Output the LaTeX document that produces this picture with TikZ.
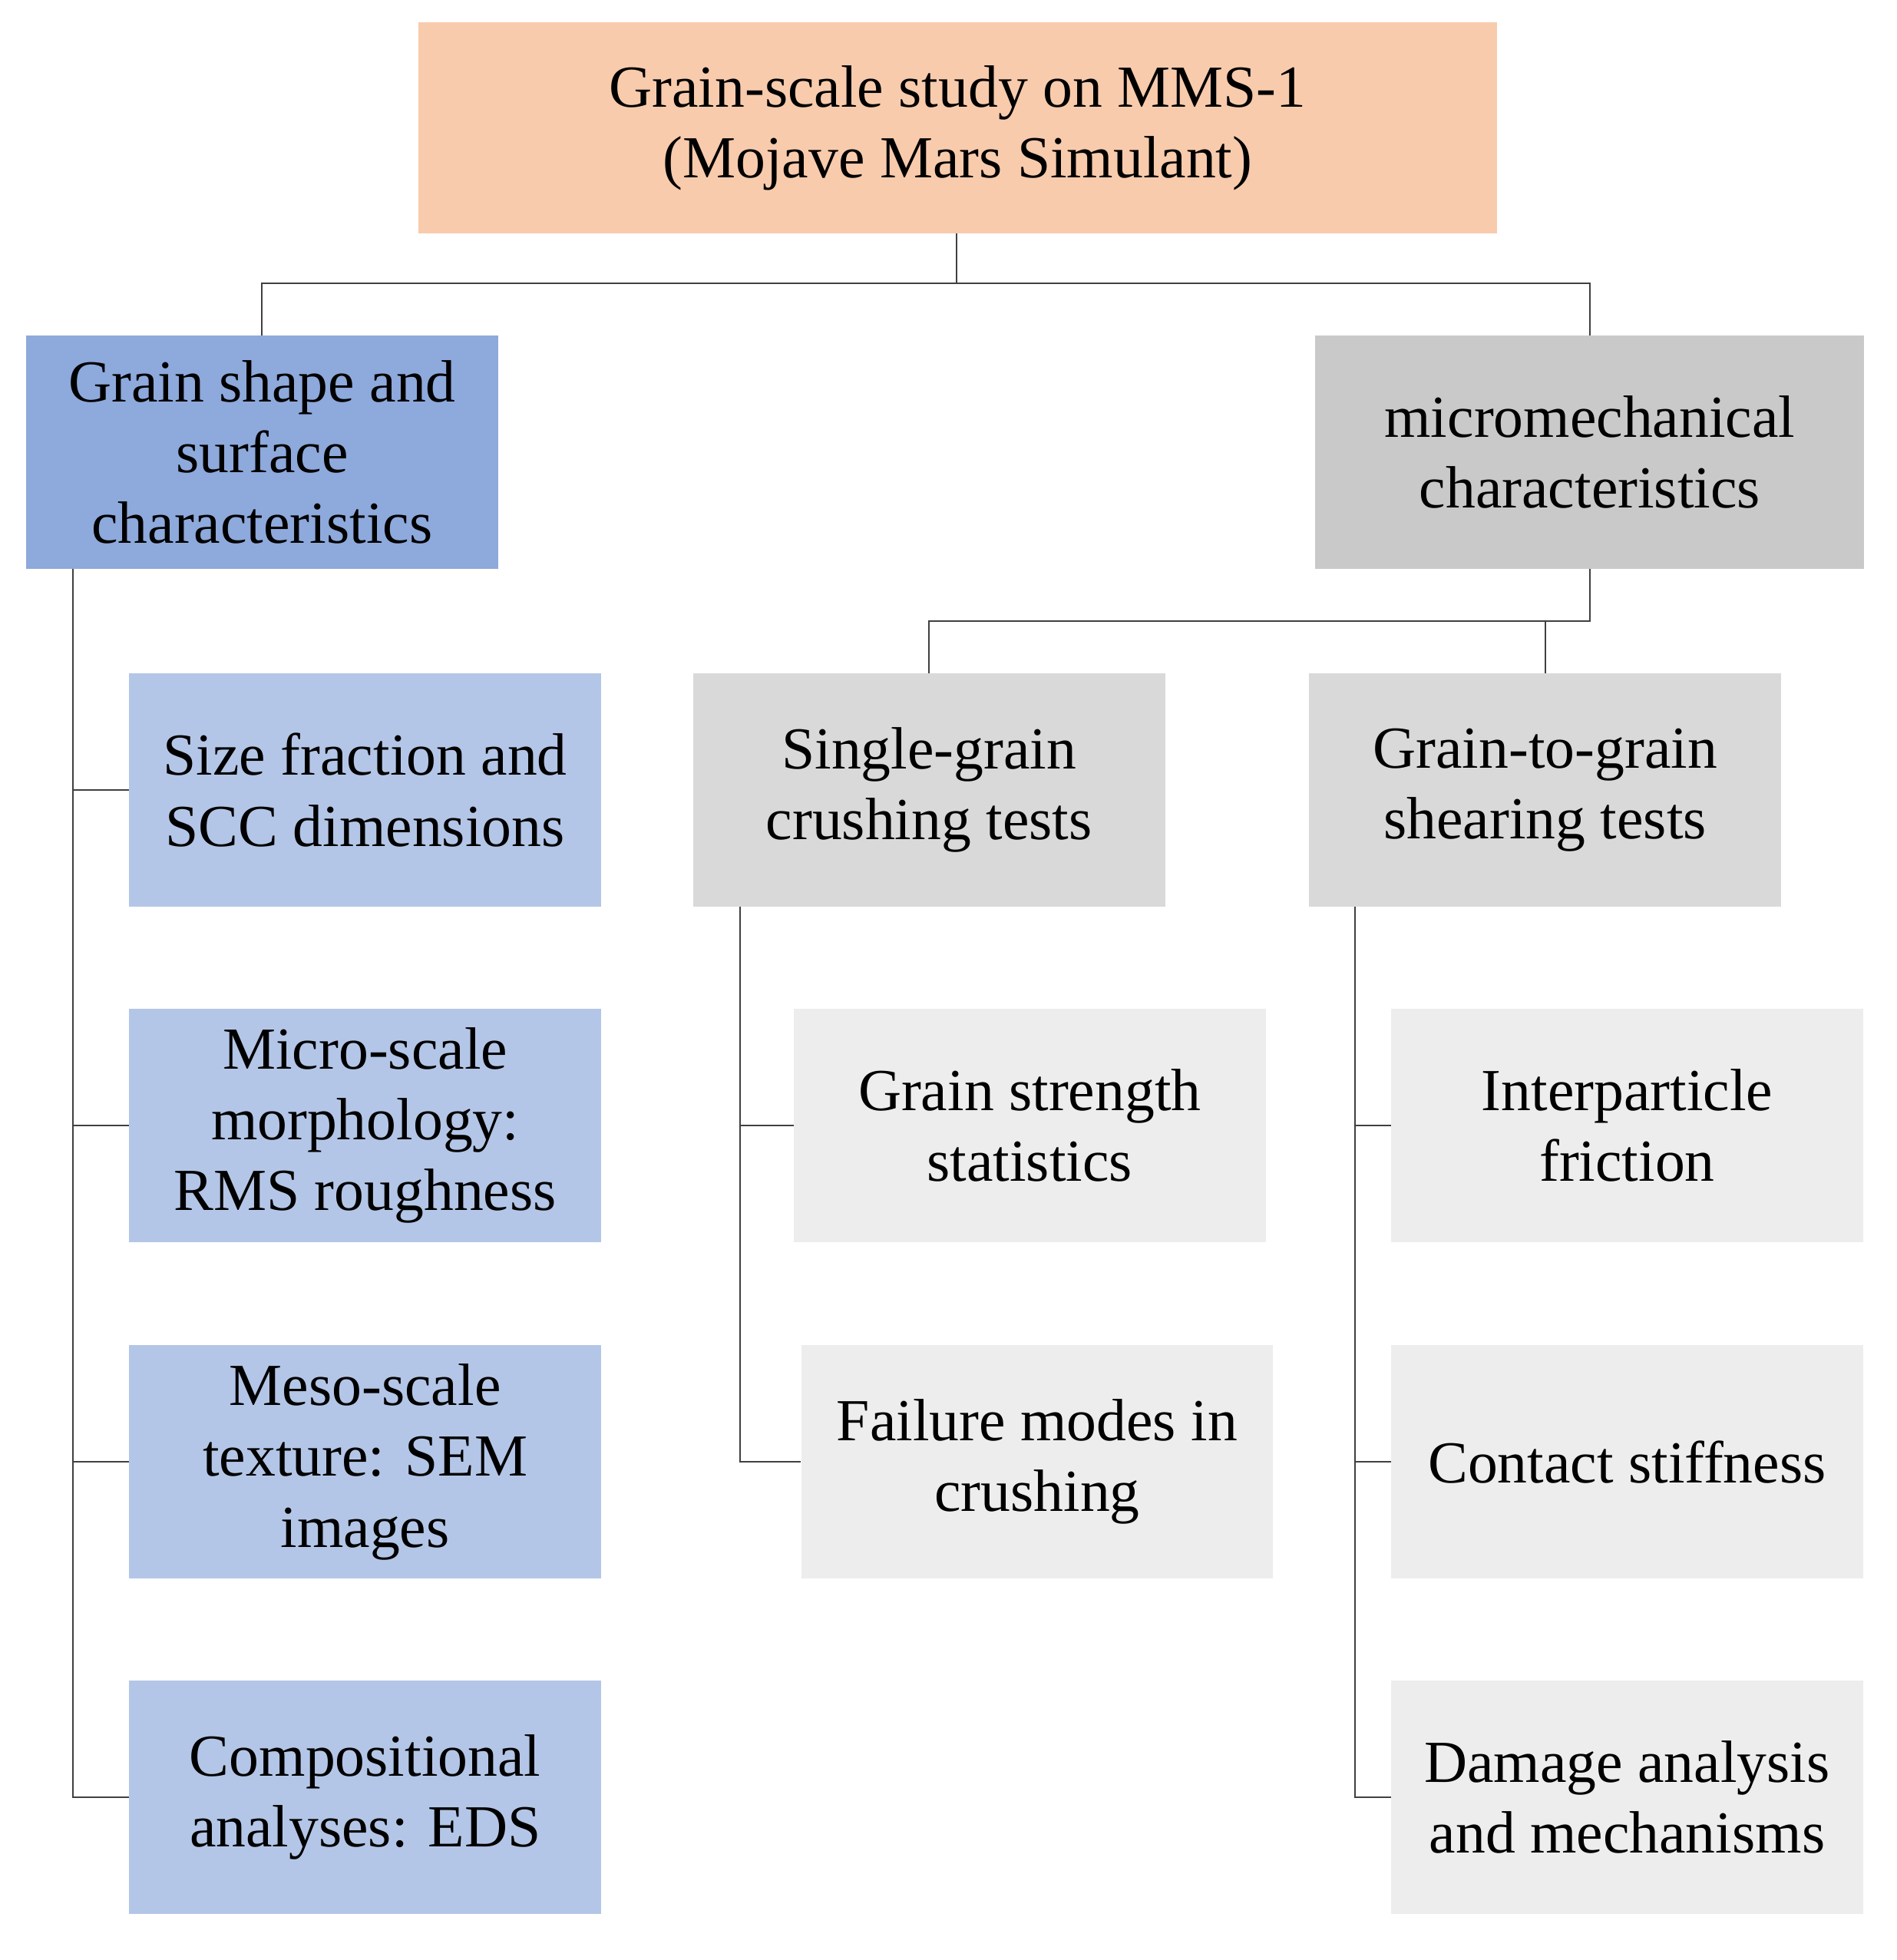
\documentclass[tikz,border=0pt]{standalone}
\usepackage{fontspec}
\setmainfont{Liberation Serif}
\usetikzlibrary{calc}
\definecolor{peach}{HTML}{F8CBAD}
\definecolor{blueA}{HTML}{8EA9DB}
\definecolor{blueB}{HTML}{B4C6E7}
\definecolor{grayA}{HTML}{C9C9C9}
\definecolor{grayB}{HTML}{D9D9D9}
\definecolor{grayC}{HTML}{EDEDED}
\begin{document}
\begin{tikzpicture}[x=1pt,y=-1pt,
  box/.style={draw=none,align=center,inner sep=0pt,font=\fontsize{48}{57}\selectfont,minimum width=380pt,minimum height=188pt},
  ln/.style={draw=black!75,line width=1.2pt}]
\useasboundingbox (0,0) rectangle (1527,1578);
\node[box,fill=peach,minimum width=868pt,minimum height=170pt] (top) at (771,103) {Grain-scale study on MMS-1\\(Mojave Mars Simulant)};
\node[box,fill=blueA] (L1) at (211,364) {Grain shape and\\surface\\characteristics};
\node[box,fill=grayA,minimum width=442pt] (R1) at (1280,364) {micromechanical\\characteristics};
\node[box,fill=blueB] (a1) at (294,636) {Size fraction and\\SCC dimensions};
\node[box,fill=blueB] (a2) at (294,906) {Micro-scale\\morphology:\\RMS roughness};
\node[box,fill=blueB] (a3) at (294,1177) {Meso-scale\\texture: SEM\\images};
\node[box,fill=blueB] (a4) at (294,1447) {Compositional\\analyses: EDS};
\node[box,fill=grayB] (m1) at (748,636) {Single-grain\\crushing tests};
\node[box,fill=grayB] (m2) at (1244,636) {Grain-to-grain\\shearing tests};
\node[box,fill=grayC] (b1) at (829,906) {Grain strength\\statistics};
\node[box,fill=grayC] (b2) at (835,1177) {Failure modes in\\crushing};
\node[box,fill=grayC] (c1) at (1310,906) {Interparticle\\friction};
\node[box,fill=grayC] (c2) at (1310,1177) {Contact stiffness};
\node[box,fill=grayC] (c3) at (1310,1447) {Damage analysis\\and mechanisms};
\coordinate (tj) at (770,228);
\draw[ln] (top.south -| tj) -- (tj);
\draw[ln] (L1.north) |- (tj) -| (R1.north);
\coordinate (rj) at (1280,500);
\draw[ln] (R1.south) -- (rj) -| (m1.north);
\draw[ln] (m2.north) -- (m2.north |- rj);
\coordinate (lx) at ($(L1.south west)+(38,0)$);
\draw[ln] (lx) |- (a4.west);
\draw[ln] (lx |- a1.west) -- (a1.west);
\draw[ln] (lx |- a2.west) -- (a2.west);
\draw[ln] (lx |- a3.west) -- (a3.west);
\coordinate (mx) at ($(m1.south west)+(38,0)$);
\draw[ln] (mx) |- (b2.west);
\draw[ln] (mx |- b1.west) -- (b1.west);
\coordinate (nx) at ($(m2.south west)+(37,0)$);
\draw[ln] (nx) |- (c3.west);
\draw[ln] (nx |- c1.west) -- (c1.west);
\draw[ln] (nx |- c2.west) -- (c2.west);
\end{tikzpicture}
\end{document}
